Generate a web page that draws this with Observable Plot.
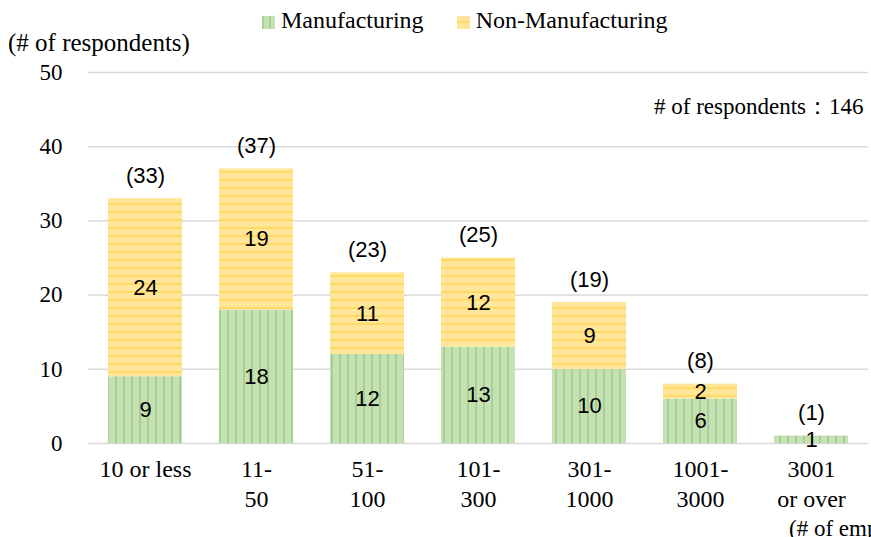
<!DOCTYPE html>
<html>
<head>
<meta charset="utf-8">
<script src="https://cdn.jsdelivr.net/npm/d3@7"></script>
<script src="https://cdn.jsdelivr.net/npm/@observablehq/plot@0.6"></script>
<style>
  html, body { margin: 0; padding: 0; background: #fff; }
  #wrap { position: relative; width: 871px; height: 537px; overflow: hidden; font-family: "Liberation Serif", "Times New Roman", serif; color: #000; }
  .ann { position: absolute; font-size: 23px; white-space: nowrap; line-height: 1; }
  .sw { display: inline-block; width: 13px; height: 13px; vertical-align: -1px; margin-right: 6px; }
  .sw.m { background: repeating-linear-gradient(90deg, #a9d18e 0 2px, #c5e0b4 2px 7px); }
  .sw.n { background: repeating-linear-gradient(180deg, #ffe699 0 5px, #ffd966 5px 7px, #ffe699 7px 13px); }
  #chart { position: absolute; left: 0; top: 0; }
</style>
</head>
<body>
<div id="wrap">
  <div id="chart"></div>
  <div class="ann" style="left:262px; top:8px; font-size:24px;"><span class="sw m"></span>Manufacturing<span style="display:inline-block;width:33px"></span><span class="sw n"></span>Non-Manufacturing</div>
  <div class="ann" style="left:8px; top:30px; font-size:25px;">(# of respondents)</div>
  <div class="ann" style="left:654px; top:95px;"># of respondents：146</div>
  <div class="ann" style="left:789px; top:517px;">(# of employees)</div>
</div>
<script>
const categories = ["10 or less", "11-\n50", "51-\n100", "101-\n300", "301-\n1000", "1001-\n3000", "3001\nor over"];
const series = ["Manufacturing", "Non-Manufacturing"];
const manufacturing = [9, 18, 12, 13, 10, 6, 1];
const nonManufacturing = [24, 19, 11, 12, 9, 2, 0];
const totals = [33, 37, 23, 25, 19, 8, 1];
const yTicks = [0, 10, 20, 30, 40, 50];

const data = [];
categories.forEach((c, i) => {
  data.push({category: c, series: series[0], value: manufacturing[i]});
  data.push({category: c, series: series[1], value: nonManufacturing[i]});
});
const totalData = categories.map((c, i) => ({category: c, total: totals[i]}));

const plot = Plot.plot({
  width: 871,
  height: 537,
  marginTop: 72,
  marginBottom: 94,
  marginLeft: 88,
  marginRight: 3,
  style: {fontFamily: "'Liberation Serif', 'Times New Roman', serif", fontSize: "23px", color: "#000", background: "transparent"},
  x: {domain: categories, paddingInner: 0.335, paddingOuter: 0.1675, label: null},
  y: {domain: [0, 50], label: null},
  color: {domain: series, range: ["url(#patM)", "url(#patN)"]},
  marks: [
    Plot.gridY(yTicks, {stroke: "#d9d9d9", strokeOpacity: 1, strokeWidth: 1.5}),
    Plot.barY(data, Plot.stackY({x: "category", y: "value", fill: "series", order: series})),
    Plot.text(data.filter(d => d.value > 0), Plot.stackY({x: "category", y: "value", z: "series", order: series, text: d => String(d.value), fontFamily: "'Liberation Sans', Arial, sans-serif", fontSize: 22, fill: "#000"})),
    Plot.text(totalData, {x: "category", y: "total", text: d => `(${d.total})`, dy: -23, fontFamily: "'Liberation Sans', Arial, sans-serif", fontSize: 22, fill: "#000"}),
    Plot.axisY(yTicks, {tickSize: 0, tickPadding: 26, label: null, fontSize: 23}),
    Plot.axisX({tickSize: 0, tickPadding: 12, label: null, lineHeight: 1.25, fontSize: 24})
  ]
});

const svg = d3.select(plot);
const defs = svg.insert("defs", ":first-child");
const pm = defs.append("pattern").attr("id", "patM").attr("patternUnits", "userSpaceOnUse").attr("width", 8).attr("height", 8);
pm.append("rect").attr("width", 8).attr("height", 8).attr("fill", "#c5e0b4");
pm.append("rect").attr("x", 3).attr("width", 2).attr("height", 8).attr("fill", "#a9d18e");
const pn = defs.append("pattern").attr("id", "patN").attr("patternUnits", "userSpaceOnUse").attr("width", 8).attr("height", 8);
pn.append("rect").attr("width", 8).attr("height", 8).attr("fill", "#ffe699");
pn.append("rect").attr("y", 3).attr("width", 8).attr("height", 2).attr("fill", "#ffd966");

document.getElementById("chart").appendChild(plot);
</script>
</body>
</html>
